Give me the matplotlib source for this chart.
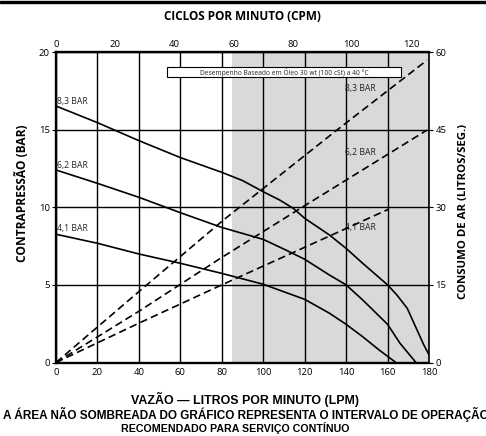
import matplotlib
matplotlib.use('Agg')
import matplotlib.pyplot as plt
from matplotlib.patches import Rectangle

# ---- data ----
lpm_83 = [0, 20, 40, 60, 80, 90, 100, 108, 114.5, 120, 132, 140, 148, 160, 164.5, 169.5, 173.5, 177.5, 180]
bp_83 = [16.52, 15.45, 14.29, 13.2, 12.25, 11.72, 11.0, 10.46, 9.93, 9.29, 8.21, 7.35, 6.39, 5.0, 4.35, 3.49, 2.31, 1.13, 0.5]

lpm_62 = [0, 20, 40, 60, 80, 100, 111, 120, 132, 140, 148, 160, 166, 173.7]
bp_62 = [12.4, 11.54, 10.64, 9.65, 8.7, 7.93, 7.24, 6.65, 5.63, 5.0, 4.03, 2.46, 1.24, 0]

lpm_41 = [0, 20, 40, 60, 80, 100, 120, 132, 140, 148, 156, 164]
bp_41 = [8.26, 7.68, 6.99, 6.39, 5.74, 5.04, 4.07, 3.17, 2.46, 1.66, 0.8, 0]

air_lpm_83 = [0, 40, 80.7, 116.6, 135.5, 179]
air_83 = [0, 13.7, 27.5, 38.9, 44.9, 58.4]
air_lpm_62 = [0, 40, 80, 120, 179]
air_62 = [0, 9.9, 20.3, 30.3, 44.9]
air_lpm_41 = [0, 40, 80, 160.4]
air_41 = [0, 7.6, 15.0, 29.6]

lpm_ticks = list(range(0, 181, 20))
bar_ticks = [0, 5, 10, 15, 20]
air_ticks = [0, 15, 30, 45, 60]
cpm_ticks = [0, 20, 40, 60, 80, 100, 120]
cpm_max = 126.1
shade_start = 85

labels = ['8,3 BAR', '6,2 BAR', '4,1 BAR']

# ---- figure ----
W, H = 486, 436
fig = plt.figure(figsize=(W / 100, H / 100), dpi=100)
fig.patch.set_facecolor('white')
ax = fig.add_axes([56 / W, 1 - 362.5 / H, 373 / W, 310.5 / H])
ax.set_xlim(0, 180)
ax.set_ylim(0, 20)
ax.axvspan(shade_start, 180, color='#dad9d7', lw=0, zorder=0)
ax.set_xticks(lpm_ticks)
ax.set_yticks(bar_ticks)
ax.grid(True, color='black', lw=1.0, zorder=1)
ax.set_axisbelow(True)

tfont = 'Open Sans'
for lab in ax.get_xticklabels() + ax.get_yticklabels():
    lab.set_fontfamily(tfont)
ax.tick_params(axis='x', labelsize=6.8, length=0, pad=4)
ax.tick_params(axis='y', labelsize=6.8, length=3, width=0.8, pad=1.5)
for s in ['left', 'bottom', 'top']:
    ax.spines[s].set_linewidth(1.7)
ax.spines['right'].set_linewidth(1.2)

lw = 1.2
ax.plot(lpm_83, bp_83, color='black', lw=lw, zorder=3)
ax.plot(lpm_62, bp_62, color='black', lw=lw, zorder=3)
ax.plot(lpm_41, bp_41, color='black', lw=lw, zorder=3)

# right axis (air consumption)
ax2 = ax.twinx()
ax2.set_ylim(0, 60)
ax2.set_yticks(air_ticks)
ax2.tick_params(axis='y', labelsize=6.8, length=3, width=0.8, pad=1.5)
for lab in ax2.get_yticklabels():
    lab.set_fontfamily(tfont)
for s in ax2.spines.values():
    s.set_visible(False)
for xs, ys in [(air_lpm_83, air_83), (air_lpm_62, air_62), (air_lpm_41, air_41)]:
    ax2.plot(xs, ys, color='black', lw=lw, ls=(0, (4.5, 2.5)), zorder=3)

# top axis (cycles per minute)
ax3 = ax.twiny()
ax3.set_xlim(0, cpm_max)
ax3.set_xticks(cpm_ticks)
ax3.tick_params(axis='x', labelsize=6.8, length=0, pad=2)
for lab in ax3.get_xticklabels():
    lab.set_fontfamily(tfont)
for s in ax3.spines.values():
    s.set_visible(False)

# curve labels
lfs = 6.2
for y, lab in zip([16.55, 12.42, 8.32], labels):
    ax.text(0.6, y, lab, fontsize=lfs, family=tfont, color='#222222', va='bottom', ha='left', zorder=4)
for y, lab in zip([17.34, 13.25, 8.42], labels):
    ax.text(139.5, y, lab, fontsize=lfs, family=tfont, color='#222222', va='bottom', ha='left', zorder=4)

# note box
ax.add_patch(Rectangle((53.6, 18.39), 112.9, 0.64, facecolor='white', edgecolor='black', lw=0.8, zorder=4))
ax.text(110.0, 18.71, 'Desempenho Baseado em Óleo 30 wt (100 cSt) a 40 °C', fontsize=4.8, family=tfont,
        ha='center', va='center', zorder=5, color='#222222')

# figure texts
fig.add_artist(Rectangle((0, 1 - 3.5 / H), 1, 2.5 / H, transform=fig.transFigure, color='black'))
fig.text(242 / W, 1 - 17 / H, 'CICLOS POR MINUTO (CPM)', fontsize=8.5, fontweight='bold', family=tfont,
         ha='center', va='center')
fig.text(22 / W, 1 - 193 / H, 'CONTRAPRESSÃO (BAR)', fontsize=8.6, fontweight='bold', family=tfont,
         rotation=90, ha='center', va='center')
fig.text(463 / W, 1 - 211 / H, 'CONSUMO DE AR (LITROS/SEG.)', fontsize=8.2, fontweight='bold', family=tfont,
         rotation=90, ha='center', va='center')
fig.text(245 / W, 1 - 404 / H, 'VAZÃO — LITROS POR MINUTO (LPM)', fontsize=8.9, fontweight='bold',
         family='Liberation Sans', ha='center', va='baseline')
fig.text(246 / W, 1 - 419 / H, 'A ÁREA NÃO SOMBREADA DO GRÁFICO REPRESENTA O INTERVALO DE OPERAÇÃO',
         fontsize=8.5, fontweight='bold', family='Liberation Sans', ha='center', va='baseline')
fig.text(235 / W, 1 - 431.5 / H, 'RECOMENDADO PARA SERVIÇO CONTÍNUO', fontsize=7.7, fontweight='bold',
         family='Liberation Sans', ha='center', va='baseline')

fig.savefig('out.png', dpi=100)
